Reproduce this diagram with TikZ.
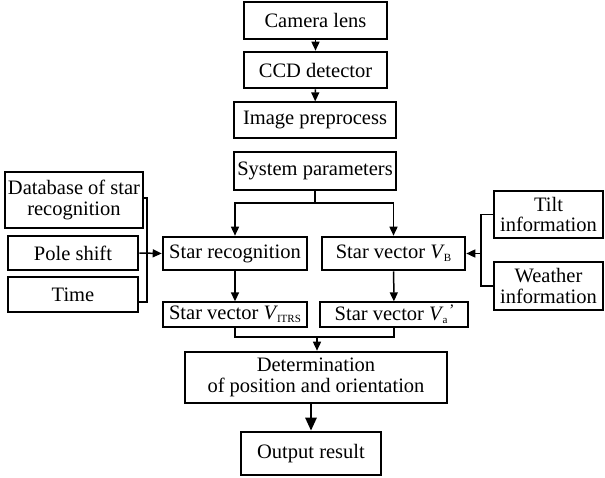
\documentclass[tikz,border=0pt]{standalone}
\usepackage{fontspec}
\setmainfont{Liberation Serif}
\usetikzlibrary{arrows.meta}
\newcommand\Vsub[1]{\textit{V}\kern-1pt\raisebox{-3pt}{\fontsize{11}{11}\selectfont #1}}
\newcommand\Vprime{\textit{V}\kern-1pt\raisebox{-3pt}{\fontsize{11}{11}\selectfont a}\kern0.5pt\raisebox{5pt}{\fontsize{16}{16}\selectfont\textit{'}}}
\begin{document}
\begin{tikzpicture}[x=1pt,y=-1pt,
  every node/.style={font=\fontsize{20.5}{20.5}\selectfont, align=center, inner sep=0pt},
  thinbox/.style={draw, line width=1.3pt, minimum width=#1},
  thickbox/.style={draw, line width=2.6pt, minimum width=#1},
  conn/.style={line width=1.5pt},
  arr/.style={line width=1.5pt, -{Triangle[length=9pt,width=8pt]}},
  bigarr/.style={line width=2.6pt, -{Triangle[length=13pt,width=11pt]}},
  ml/.style={font=\fontsize{20.5}{20.5}\selectfont}
]
\useasboundingbox (0,0) rectangle (605,477);
\node[thickbox=143, minimum height=37] (cam) at (315.5,20.5) {Camera lens};
\node[thickbox=143, minimum height=36] (ccd) at (315.5,70) {CCD detector};
\node[thinbox=162, minimum height=36] (img) at (315,120) {Image preprocess};
\node[thinbox=162, minimum height=38] (sys) at (315,171) {System parameters};
\node[thinbox=138, minimum height=56, ml] (db) at (74,200) {Database of star\\recognition};
\node[thickbox=130, minimum height=34] (pole) at (73,253) {Pole shift};
\node[thickbox=130, minimum height=35] (time) at (73,294.5) {Time};
\node[thickbox=144, minimum height=33] (srec) at (235,253.5) {Star recognition};
\node[thickbox=143, minimum height=33] (svb) at (393.5,253.5) {Star vector \Vsub{B}};
\node[thinbox=144, minimum height=25] (vitrs) at (235,314.5) {Star vector \Vsub{ITRS}};
\node[thinbox=148, minimum height=25] (va) at (394,314.5) {Star vector \Vprime};
\node[thickbox=262, minimum height=51, ml] (det) at (316,377.5) {Determination\\of position and orientation};
\node[thickbox=140, minimum height=43] (out) at (311,453.5) {Output result};
\node[thickbox=109, minimum height=47, ml] (tilt) at (548.5,214.5) {Tilt\\information};
\node[thickbox=109, minimum height=48, ml] (wea) at (548.5,286) {Weather\\information};

\coordinate (lb1) at (147,198);
\coordinate (lb2) at (147,302);
\coordinate (sp) at (315,203);
\coordinate (rb1) at (481,214.5);
\coordinate (rb2) at (481,286);
\coordinate (mg) at (317,337);

\draw[arr] (cam) -- (ccd);
\draw[arr] (ccd) -- (img);
\draw[conn] (sys.south) -- (sp);
\draw[arr] (sp) -| (srec.north);
\draw[arr] (sp) -| (svb.north);
\draw[conn] (db.east |- lb1) -- (lb1) -- (lb2) -- (time.east |- lb2);
\draw[arr] (pole.east) -- (srec.west);
\draw[conn] (tilt.west) -- (rb1) -- (rb2) -- (wea.west);
\draw[arr] (rb1 |- svb.east) -- (svb.east);
\draw[arr] (srec) -- (vitrs);
\draw[arr] (svb) -- (va);
\draw[conn] (vitrs.south) -- (vitrs.south |- mg) -- (va.south |- mg) -- (va.south);
\draw[arr] (mg) -- (mg |- det.north);
\draw[bigarr] (det.south -| out.north) -- (out.north);
\end{tikzpicture}
\end{document}
